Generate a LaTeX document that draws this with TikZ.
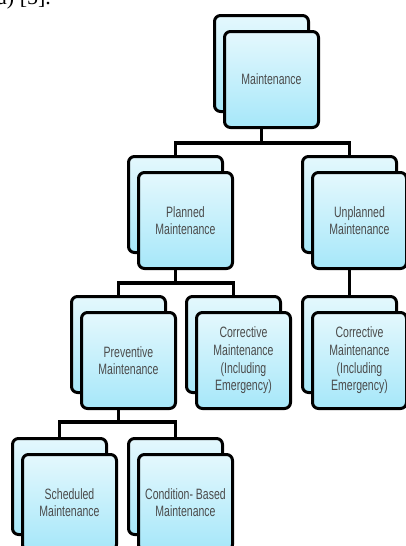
\documentclass[tikz,border=0pt]{standalone}
\usepackage{fontspec}
\setmainfont{Liberation Serif}
\newfontfamily\boxfont[FakeStretch=0.7]{Liberation Sans}
\usetikzlibrary{backgrounds}
\definecolor{boxtop}{RGB}{228,248,253}
\definecolor{boxbot}{RGB}{166,231,249}
\definecolor{boxtext}{RGB}{75,75,75}
\tikzset{
  x=1pt, y=-1pt,
  card/.style={draw=black, line width=3pt, rounded corners=6pt,
    top color=boxtop, bottom color=boxbot,
    minimum width=94pt, minimum height=96pt, inner sep=0pt,
    font=\boxfont\fontsize{15}{17.6}\selectfont, text=boxtext, align=center},
  backcard/.style={card},
  frontcard/.style={card},
  link/.style={draw=black, line width=3.5pt, line join=miter}
}
\begin{document}
\begin{tikzpicture}
\useasboundingbox (0,0) rectangle (406,546);
\node[anchor=base west, font=\fontsize{22}{26}\selectfont, inner sep=0pt] (cap) at (-3,5) {a) [5].};
% Maintenance
\node[backcard] (Mb) at (261.5,63.5) {};
\node[frontcard] (Mf) at (271.5,79.5) {Maintenance};
% Planned
\node[backcard] (Pb) at (175.5,204.5) {};
\node[frontcard] (Pf) at (185.5,220.5) {Planned\\Maintenance};
% Unplanned
\node[backcard] (Ub) at (349.5,204.5) {};
\node[frontcard] (Uf) at (359.5,220.5) {Unplanned\\Maintenance};
% Preventive
\node[backcard] (Vb) at (118.5,344.5) {};
\node[frontcard] (Vf) at (128.5,360.5) {Preventive\\Maintenance};
% Corrective 1
\node[backcard] (C1b) at (233.5,344.5) {};
\node[frontcard] (C1f) at (243.5,360.5) {Corrective\\Maintenance\\(Including\\Emergency)};
% Corrective 2
\node[backcard] (C2b) at (349.5,344.5) {};
\node[frontcard] (C2f) at (359.5,360.5) {Corrective\\Maintenance\\(Including\\Emergency)};
% Scheduled
\node[backcard] (Sb) at (59.5,486.5) {};
\node[frontcard] (Sf) at (69.5,502.5) {Scheduled\\Maintenance};
% Condition-Based
\node[backcard] (Bb) at (175.5,486.5) {};
\node[frontcard] (Bf) at (185.5,502.5) {Condition- Based\\Maintenance};
% connectors
\coordinate (j1) at (262,143);
\coordinate (j2) at (176,283);
\coordinate (j3) at (118,422);
\begin{scope}[on background layer]
\draw[link] (Mb.south) -- (Mb.south |- j1);
\draw[link] (Pb.north) -- (Pb.north |- j1) -- (Ub.north |- j1) -- (Ub.north);
\draw[link] (Pb.south) -- (Pb.south |- j2);
\draw[link] (Vb.north) -- (Vb.north |- j2) -- (C1b.north |- j2) -- (C1b.north);
\draw[link] (Ub.south) -- (C2b.north);
\draw[link] (Vb.south) -- (Vb.south |- j3);
\draw[link] (Sb.north) -- (Sb.north |- j3) -- (Bb.north |- j3) -- (Bb.north);
\end{scope}
\end{tikzpicture}
\end{document}
